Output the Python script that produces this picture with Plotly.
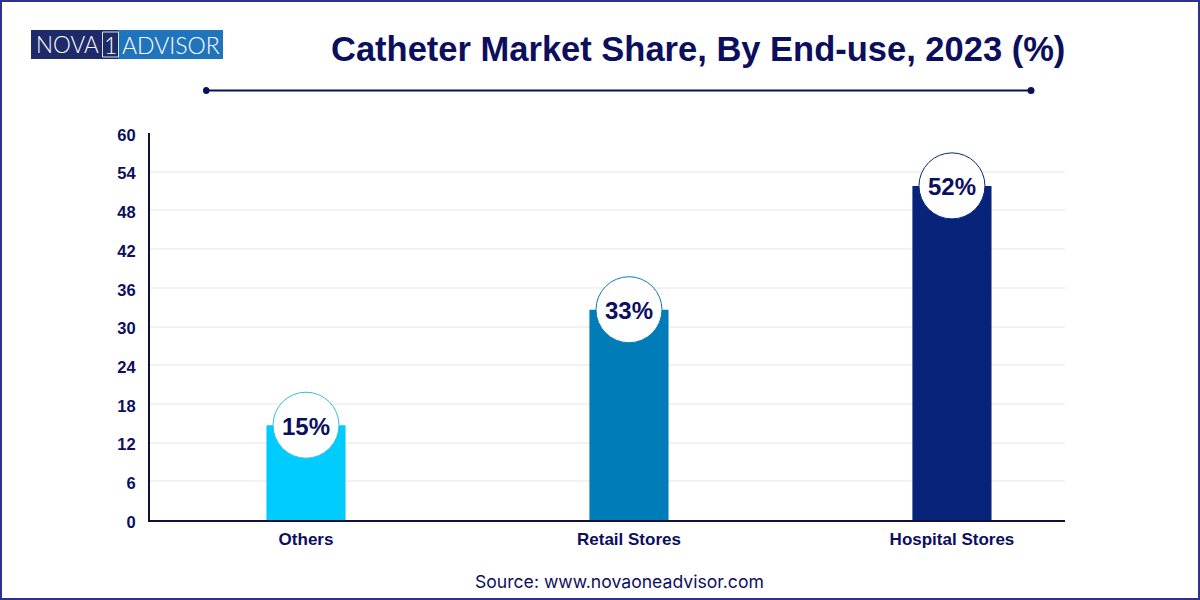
import plotly.graph_objects as go

# chart data
categories = ["Others", "Retail Stores", "Hospital Stores"]
shares = [14.7, 32.6, 51.8]  # bar heights as drawn, slightly under the printed labels
share_labels = ["15%", "33%", "52%"]
bar_colors = ["#00CCFF", "#007DB8", "#08247A"]
ring_colors = ["#35BCE0", "#0A7DB5", "#08247A"]
y_ticks = [0, 6, 12, 18, 24, 30, 36, 42, 48, 54, 60]

NAVY = "#0C0F5E"
W, H = 1200, 600


def px(x):
    return x / W


def py(y):
    return 1 - y / H


fig = go.Figure()
fig.add_trace(go.Bar(
    x=categories, y=shares, width=0.245, marker=dict(color=bar_colors, line_width=0),
    hoverinfo="skip",
))
# white circles holding the value labels
fig.add_trace(go.Scatter(
    x=categories, y=shares, mode="markers",
    marker=dict(size=66, color="white", line=dict(color=ring_colors, width=1)),
    cliponaxis=False, hoverinfo="skip",
))

shapes = [
    # page border
    dict(type="rect", xref="paper", yref="paper", x0=px(1), x1=px(1199), y0=py(1), y1=py(599),
         line=dict(color="#2E3192", width=2)),
    # rule under the title
    dict(type="line", xref="paper", yref="paper", x0=px(206), x1=px(1031), y0=py(90.5), y1=py(90.5),
         line=dict(color=NAVY, width=2)),
    dict(type="circle", xref="paper", yref="paper", x0=px(203), x1=px(209.5), y0=py(87), y1=py(94),
         fillcolor=NAVY, line_width=0),
    dict(type="circle", xref="paper", yref="paper", x0=px(1027.5), x1=px(1034.5), y0=py(87), y1=py(94),
         fillcolor=NAVY, line_width=0),
    # logo
    dict(type="rect", xref="paper", yref="paper", x0=px(31), x1=px(118), y0=py(30), y1=py(59),
         fillcolor="#1F2A68", line_width=0),
    dict(type="rect", xref="paper", yref="paper", x0=px(118), x1=px(223), y0=py(30), y1=py(59),
         fillcolor="#1F74BC", line_width=0),
    dict(type="rect", xref="paper", yref="paper", x0=px(102.5), x1=px(118.5), y0=py(32), y1=py(57),
         line=dict(color="#D5E3F2", width=1)),
]

annotations = [
    dict(text="<b>Catheter Market Share, By End-use, 2023 (%)</b>", x=px(1066.5), y=py(49),
         xanchor="right", yanchor="middle",
         font=dict(family="Liberation Sans", size=34.5, color=NAVY)),
    dict(text="Source: www.novaoneadvisor.com", x=px(619), y=py(581), xanchor="center", yanchor="middle",
         font=dict(family="Inter", size=17.6, color=NAVY)),
    dict(text="NOVA", x=px(67.5), y=py(45), xanchor="center", yanchor="middle",
         font=dict(family="Lato", size=22.5, color="white", weight=300)),
    dict(text="1", x=px(110.5), y=py(45), xanchor="center", yanchor="middle",
         font=dict(family="Lato", size=23, color="white", weight=300)),
    dict(text="ADVISOR", x=px(171), y=py(45), xanchor="center", yanchor="middle",
         font=dict(family="Lato", size=23, color="white", weight=300)),
]
for a in annotations:
    a.update(xref="paper", yref="paper", showarrow=False)

# value labels sit a touch below the circle centres
for cat, val, label in zip(categories, shares, share_labels):
    annotations.append(dict(
        text=label, x=cat, y=val, xref="x", yref="y", yshift=-1, showarrow=False,
        xanchor="center", yanchor="middle",
        font=dict(family="Liberation Sans", size=24, color=NAVY, weight="bold"),
    ))

fig.update_layout(
    width=W, height=H, margin=dict(l=0, r=0, t=0, b=0, autoexpand=False),
    paper_bgcolor="white", plot_bgcolor="white", showlegend=False,
    shapes=shapes, annotations=annotations,
    xaxis=dict(
        domain=[px(150), px(1065)], type="category", range=[-0.483, 2.35], automargin=False,
        showgrid=False, showline=True, linecolor="#111133", linewidth=2, ticks="",
        ticklabelstandoff=3,
        tickfont=dict(family="Liberation Sans", size=17, color=NAVY, weight="bold"),
    ),
    yaxis=dict(
        domain=[py(520), py(133)], range=[0, 60], tickvals=y_ticks, automargin=False,
        showgrid=True, gridcolor="#F2F2F2", gridwidth=2, zeroline=False,
        showline=True, linecolor="#111133", linewidth=2, ticks="", ticklen=0,
        ticklabelstandoff=9, ticklabelshift=2,
        tickfont=dict(family="Liberation Sans", size=16.5, color=NAVY, weight="bold"),
    ),
)

# page default margin would push the figure out of the window
fig.write_html("out.html", config=dict(displayModeBar=False),
               post_script="document.body.style.margin='0';")
